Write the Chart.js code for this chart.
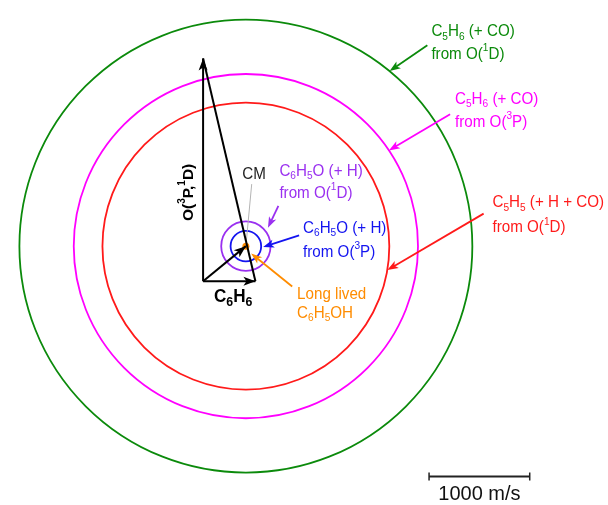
<!DOCTYPE html>
<html>
<head>
<meta charset="utf-8">
<script src="https://cdn.jsdelivr.net/npm/chart.js@4/dist/chart.umd.min.js"></script>
<style>
  html, body { margin: 0; padding: 0; background: #fff; }
  #wrap { width: 608px; height: 505px; }
</style>
</head>
<body>
<div id="wrap"><canvas id="newton" width="608" height="505"></canvas></div>
<script>
// Newton diagram for O(3P,1D) + C6H6 crossed beams.
// All velocities in m/s, lab-frame origin at (0, 0).
const beamNames = ['O(^{3}P,^{1}D)', 'C_{6}H_{6}'];
const beamVelocity = [[0, 2220], [520, 0]];          // [vx, vy]
const centerOfMass = [425, 350];                     // CM velocity [vx, vy]
const channelLabels = [
  ['C_{5}H_{6} (+ CO)', 'from O(^{1}D)'],
  ['C_{5}H_{6} (+ CO)', 'from O(^{3}P)'],
  ['C_{5}H_{5} (+ H + CO)', 'from O(^{1}D)'],
  ['C_{6}H_{5}O (+ H)', 'from O(^{1}D)'],
  ['C_{6}H_{5}O (+ H)', 'from O(^{3}P)']
];
const channelMaxSpeed = [2250, 1710, 1425, 245, 152]; // Newton circle radii, m/s
const longLivedLabel = ['Long lived', 'C_{6}H_{5}OH'];
const scaleBarLength = [1000];
const scaleBarLabel = ['1000 m/s'];

// ---- presentation settings (colours, label placement in velocity units) ----
const channelColors = ['#0b8a0b', '#ff00ff', '#ff1a1a', '#9a30f0', '#1414f0'];
const channelStyle = [
  { text: [2268, 2487], gap: 23, arrowAngle: 50.6, tail: [2228, 2350] },
  { text: [2503, 1811], gap: 23, arrowAngle: 33.8, tail: [2454, 1664] },
  { text: [2875, 781],  gap: 25, arrowAngle: -9.6, tail: [2787, 674] },
  { text: [758, 1095],  gap: 22, arrowAngle: 39.6, tail: [748, 752], tipPad: 4 },
  { text: [993, 526],   gap: 24, arrowAngle: -3,   tail: [954, 458], tipPad: 2 }
];
const orange = '#ff8c00';
const longLivedStyle = { text: [934, -130], gap: 19, tail: [885, -52], tipAngle: -54, tipPx: 9 };
const cmLabelAt = [506, 1066];
const cmLineEnd = [483, 968];
const benzeneLabelAt = [108, -160];
const oxygenLabelAt = [-144, 885];
const scaleBarAt = [2245, -1944];
const FONT = '"Liberation Sans", Arial, Helvetica, sans-serif';

function parseRich(s) {
  const out = []; let buf = ''; let i = 0;
  while (i < s.length) {
    if ((s[i] === '_' || s[i] === '^') && s[i + 1] === '{') {
      if (buf) { out.push({ t: buf, k: 0 }); buf = ''; }
      const j = s.indexOf('}', i);
      out.push({ t: s.slice(i + 2, j), k: s[i] === '_' ? 1 : -1 });
      i = j + 1;
    } else { buf += s[i]; i++; }
  }
  if (buf) out.push({ t: buf, k: 0 });
  return out;
}

// draws text with sub/superscripts; sx squeezes glyphs horizontally
function drawRich(ctx, s, x, y, o) {
  const size = o.size, sub = Math.round(size * (o.subRatio || 0.64));
  const sx = o.sx || 1;
  const w = o.bold ? 'bold ' : '';
  const segs = parseRich(s);
  let total = 0;
  segs.forEach(g => {
    ctx.font = w + (g.k ? sub : size) + 'px ' + FONT;
    g.w = ctx.measureText(g.t).width; total += g.w;
  });
  ctx.save();
  ctx.translate(o.align === 'center' ? x - total * sx / 2 : x, y);
  ctx.scale(sx, 1);
  ctx.fillStyle = o.color;
  ctx.textBaseline = 'middle';
  ctx.textAlign = 'left';
  let cx = 0;
  segs.forEach(g => {
    ctx.font = w + (g.k ? sub : size) + 'px ' + FONT;
    let dy = 0;
    if (g.k === 1) dy = size * 0.3;
    if (g.k === -1) dy = -size * 0.38;
    ctx.fillText(g.t, cx, dy);
    cx += g.w;
  });
  ctx.restore();
}

function arrowHead(ctx, x0, y0, x1, y1, color, len, half) {
  const a = Math.atan2(y1 - y0, x1 - x0);
  const c = Math.cos(a), s = Math.sin(a);
  ctx.save();
  ctx.fillStyle = color;
  ctx.beginPath();
  ctx.moveTo(x1, y1);
  ctx.lineTo(x1 - len * c - half * s, y1 - len * s + half * c);
  ctx.lineTo(x1 - len * 0.75 * c, y1 - len * 0.75 * s);
  ctx.lineTo(x1 - len * c + half * s, y1 - len * s - half * c);
  ctx.closePath();
  ctx.fill();
  ctx.restore();
}

function arrow(ctx, x0, y0, x1, y1, color, width, len, half) {
  const a = Math.atan2(y1 - y0, x1 - x0);
  ctx.save();
  ctx.strokeStyle = color; ctx.lineWidth = width;
  ctx.beginPath();
  ctx.moveTo(x0, y0);
  ctx.lineTo(x1 - Math.cos(a) * len * 0.7, y1 - Math.sin(a) * len * 0.7);
  ctx.stroke();
  ctx.restore();
  arrowHead(ctx, x0, y0, x1, y1, color, len, half);
}

const LABEL = { size: 16.5, sx: 0.92 };

const newtonPlugin = {
  id: 'newton',
  beforeDatasetsDraw(chart) {
    const ctx = chart.ctx, sx = chart.scales.x, sy = chart.scales.y;
    const cx = sx.getPixelForValue(centerOfMass[0]);
    const cy = sy.getPixelForValue(centerOfMass[1]);
    const k = sx.getPixelForValue(1000) - sx.getPixelForValue(0);
    ctx.save();
    channelMaxSpeed.forEach((r, i) => {
      ctx.strokeStyle = channelColors[i];
      ctx.lineWidth = 1.8;
      ctx.beginPath();
      ctx.arc(cx, cy, r * k / 1000, 0, Math.PI * 2);
      ctx.stroke();
    });
    // CM label leader
    ctx.strokeStyle = '#b4b4b4'; ctx.lineWidth = 1;
    ctx.beginPath();
    ctx.moveTo(cx, cy);
    ctx.lineTo(sx.getPixelForValue(cmLineEnd[0]), sy.getPixelForValue(cmLineEnd[1]));
    ctx.stroke();
    ctx.restore();
  },
  afterDatasetsDraw(chart) {
    const ctx = chart.ctx, sx = chart.scales.x, sy = chart.scales.y;
    const px = v => [sx.getPixelForValue(v[0]), sy.getPixelForValue(v[1])];
    const k = (sx.getPixelForValue(1000) - sx.getPixelForValue(0)) / 1000;
    const [ox, oy] = px([0, 0]);
    const [cx, cy] = px(centerOfMass);

    // beam and CM arrowheads
    beamVelocity.forEach(v => {
      const [tx, ty] = px(v);
      arrowHead(ctx, ox, oy, tx, ty, '#000', 12, 4.5);
    });
    arrowHead(ctx, ox, oy, cx, cy, '#000', 12, 4.5);

    // channel labels and pointers
    channelLabels.forEach((lines, i) => {
      const st = channelStyle[i];
      const [lx, ly] = px(st.text);
      lines.forEach((t, j) => drawRich(ctx, t, lx, ly + j * st.gap, { ...LABEL, color: channelColors[i] }));
      const a = st.arrowAngle * Math.PI / 180;
      const r = channelMaxSpeed[i] * k + (st.tipPad || 0);
      const tipX = cx + r * Math.cos(a), tipY = cy - r * Math.sin(a);
      const [tx, ty] = px(st.tail);
      arrow(ctx, tx, ty, tipX, tipY, channelColors[i], 1.8, 11, 4);
    });

    // long-lived complex
    const [lx, ly] = px(longLivedStyle.text);
    longLivedLabel.forEach((t, j) => drawRich(ctx, t, lx, ly + j * longLivedStyle.gap, { ...LABEL, color: orange }));
    const la = longLivedStyle.tipAngle * Math.PI / 180;
    const [ltx, lty] = px(longLivedStyle.tail);
    arrow(ctx, ltx, lty, cx + longLivedStyle.tipPx * Math.cos(la), cy - longLivedStyle.tipPx * Math.sin(la), orange, 1.8, 11, 4);

    // CM label
    const [mx, my] = px(cmLabelAt);
    drawRich(ctx, 'CM', mx, my, { ...LABEL, color: '#222', align: 'center' });

    // beam labels
    const [bx, by] = px(benzeneLabelAt);
    drawRich(ctx, beamNames[1], bx, by, { size: 18, sx: 0.95, subRatio: 0.7, bold: true, color: '#000' });
    const [qx, qy] = px(oxygenLabelAt);
    ctx.save();
    ctx.translate(qx, qy);
    ctx.rotate(-Math.PI / 2);
    drawRich(ctx, beamNames[0], 0, 0, { size: 15.5, bold: true, color: '#000', align: 'center' });
    ctx.restore();

    // scale bar ticks and label
    const [s0x, s0y] = px(scaleBarAt);
    const [s1x] = px([scaleBarAt[0] + scaleBarLength[0], scaleBarAt[1]]);
    ctx.save();
    ctx.strokeStyle = '#222'; ctx.lineWidth = 1.5;
    ctx.beginPath();
    ctx.moveTo(s0x, s0y - 4); ctx.lineTo(s0x, s0y + 4);
    ctx.moveTo(s1x, s0y - 4); ctx.lineTo(s1x, s0y + 4);
    ctx.stroke();
    ctx.restore();
    drawRich(ctx, scaleBarLabel[0], (s0x + s1x) / 2, s0y + 18, { size: 20, color: '#111', align: 'center' });
  }
};

const pt = v => ({ x: v[0], y: v[1] });
const vectorLine = (pts, color, width) => ({
  data: pts.map(pt), showLine: true, borderColor: color, borderWidth: width,
  pointRadius: 0, fill: false, tension: 0
});

new Chart(document.getElementById('newton'), {
  type: 'scatter',
  data: {
    datasets: [
      vectorLine([[0, 0], beamVelocity[0]], '#000', 2),
      vectorLine([[0, 0], beamVelocity[1]], '#000', 2),
      vectorLine([beamVelocity[0], beamVelocity[1]], '#000', 2),
      vectorLine([[0, 0], centerOfMass], '#000', 2),
      vectorLine([scaleBarAt, [scaleBarAt[0] + scaleBarLength[0], scaleBarAt[1]]], '#222', 2),
      { data: [pt(centerOfMass)], pointRadius: 3.5, pointBackgroundColor: orange,
        pointBorderColor: orange, borderWidth: 0 }
    ]
  },
  options: {
    responsive: false,
    animation: false,
    devicePixelRatio: 1,
    layout: { padding: 0 },
    plugins: { legend: { display: false }, tooltip: { enabled: false } },
    scales: {
      x: { type: 'linear', min: -1978, max: 3983, display: false },
      y: { type: 'linear', min: -2189, max: 2762, display: false }
    }
  },
  plugins: [newtonPlugin]
});
</script>
</body>
</html>
